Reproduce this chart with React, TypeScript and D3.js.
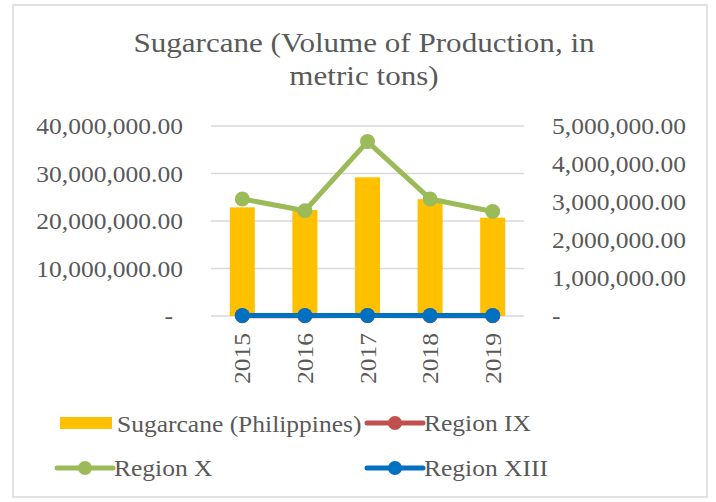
import React from 'react';
import * as d3 from 'd3';

const years = ['2015', '2016', '2017', '2018', '2019'];
// left axis (bars)
const philippines = [22880000, 22300000, 29200000, 24600000, 20700000];
// right axis (lines)
const regionIX = [9500, 8700, 10200, 9800, 9100];
const regionX = [3080000, 2770000, 4590000, 3080000, 2750000];
const regionXIII = [14500, 13800, 15200, 14900, 14100];
const leftTicks = [0, 10000000, 20000000, 30000000, 40000000];
const rightTicks = [0, 1000000, 2000000, 3000000, 4000000, 5000000];

const W = 716;
const H = 502;
const plot = { left: 211, right: 524, top: 126, bottom: 316 };
const FONT = '"Liberation Serif", "DejaVu Serif", serif';
const TEXT = '#595959';
const SX = 1.11; // widen Liberation Serif towards Cambria proportions

const fmt = (v: number) => (v === 0 ? '-' : d3.format(',.2f')(v));

type TProps = { x: number; y: number; size: number; anchor?: string; rot?: number; dy?: string; children: React.ReactNode };
const T = ({ x, y, size, anchor = 'start', rot = 0, dy, children }: TProps) => (
  <text
    transform={`translate(${x},${y}) rotate(${rot}) scale(${SX},1)`}
    textAnchor={anchor}
    dy={dy}
    fontSize={size}
    fill={TEXT}
  >
    {children}
  </text>
);

export default function App() {
  const xc = d3.scaleBand<string>().domain(years).range([plot.left, plot.right]);
  const yL = d3.scaleLinear().domain([0, 40000000]).range([plot.bottom, plot.top]);
  const yR = d3.scaleLinear().domain([0, 5000000]).range([plot.bottom, plot.top]);

  const cx = (d: string) => (xc(d) as number) + xc.bandwidth() / 2;
  const line = d3.line<number>().x((_, i) => cx(years[i])).y(v => yR(v));

  const lineSeries = [
    { name: 'Region IX', data: regionIX, color: '#C0504D' },
    { name: 'Region X', data: regionX, color: '#9BBB59' },
    { name: 'Region XIII', data: regionXIII, color: '#0070C0' },
  ];
  const drawOrder = [lineSeries[1], lineSeries[0], lineSeries[2]];

  const barW = xc.bandwidth() * 0.4;

  return (
    <svg width={W} height={H} style={{ position: 'absolute', left: 0, top: 0, background: '#fff' }} fontFamily={FONT}>
      <rect x={13} y={5} width={694} height={492} fill="#fff" stroke="#D9D9D9" strokeWidth={1.5} />

      <T x={364} y={52} size={28} anchor="middle">Sugarcane (Volume of Production, in</T>
      <T x={364} y={85} size={28} anchor="middle">metric tons)</T>

      {/* gridlines */}
      {leftTicks.map(t => (
        <line key={t} x1={plot.left} x2={plot.right} y1={yL(t)} y2={yL(t)} stroke="#D9D9D9" strokeWidth={1.5} />
      ))}

      {/* left axis labels */}
      {leftTicks.map(t => (
        <T key={t} x={t === 0 ? 173 : 183} y={yL(t)} dy="0.35em" anchor="end" size={23}>{fmt(t)}</T>
      ))}
      {/* right axis labels */}
      {rightTicks.map(t => (
        <T key={t} x={552} y={yR(t)} dy="0.35em" size={23}>{fmt(t)}</T>
      ))}

      {/* bars */}
      {philippines.map((v, i) => (
        <rect key={years[i]} x={cx(years[i]) - barW / 2} y={yL(v)} width={barW} height={yL(0) - yL(v)} fill="#FFC000" />
      ))}

      {/* lines */}
      {drawOrder.map(s => (
        <g key={s.name}>
          <path d={line(s.data) || ''} fill="none" stroke={s.color} strokeWidth={5} strokeLinejoin="round" />
          {s.data.map((v, i) => (
            <circle key={i} cx={cx(years[i])} cy={yR(v)} r={7.5} fill={s.color} />
          ))}
        </g>
      ))}

      {/* x labels */}
      {years.map(y => (
        <T key={y} x={cx(y) + 8} y={333} rot={-90} anchor="end" size={23}>{y}</T>
      ))}

      {/* legend */}
      <rect x={60} y={417} width={52} height={12} fill="#FFC000" />
      <T x={117} y={432} size={23}>Sugarcane (Philippines)</T>

      {[
        { s: lineSeries[0], x0: 367, y0: 423 },
        { s: lineSeries[1], x0: 57, y0: 468 },
        { s: lineSeries[2], x0: 367, y0: 468 },
      ].map(({ s, x0, y0 }) => (
        <g key={s.name}>
          <line x1={x0} x2={x0 + 56} y1={y0} y2={y0} stroke={s.color} strokeWidth={5} strokeLinecap="round" />
          <circle cx={x0 + 28} cy={y0} r={7} fill={s.color} />
          <T x={x0 + 57} y={y0 + 8} size={23}>{s.name}</T>
        </g>
      ))}
    </svg>
  );
}
